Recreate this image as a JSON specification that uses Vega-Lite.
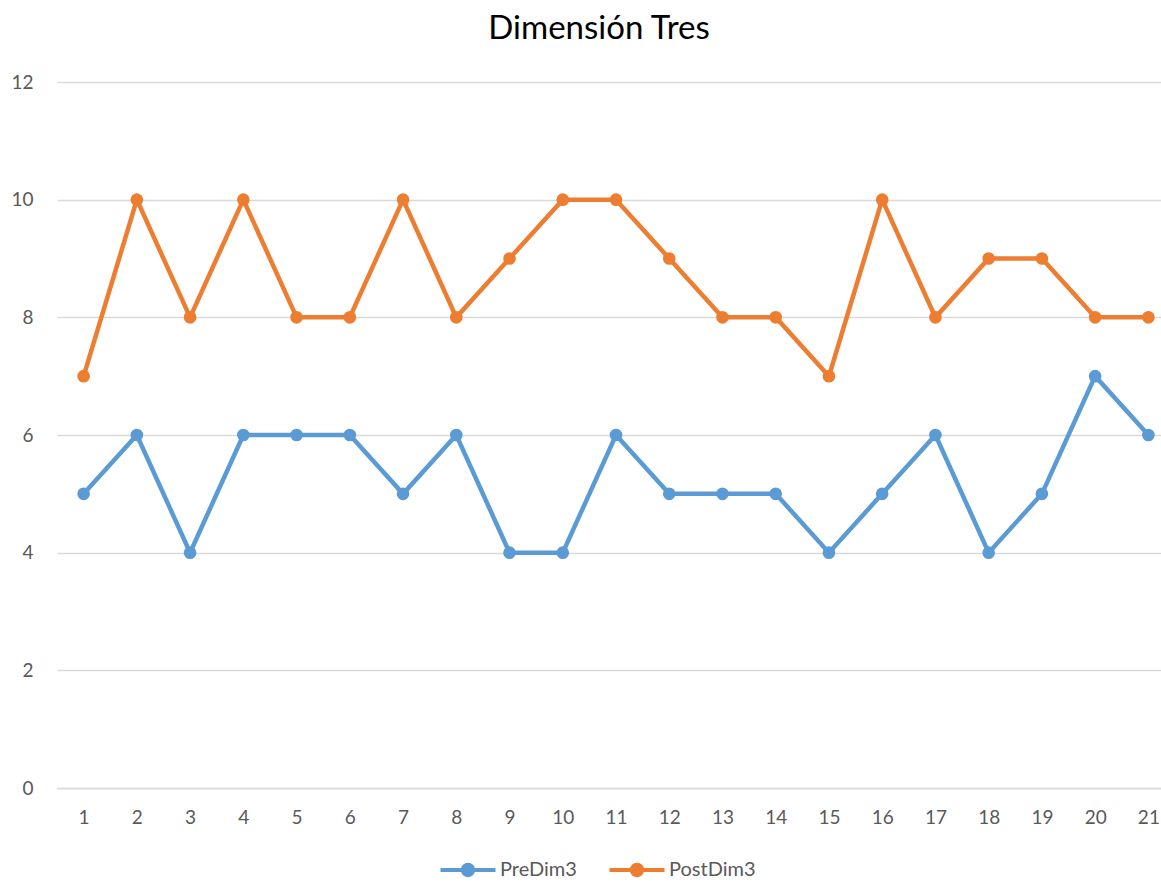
{
  "$schema": "https://vega.github.io/schema/vega-lite/v6.json",
  "autosize": "none",
  "padding": {"left": 57, "top": 82, "right": 0, "bottom": 94},
  "width": 1118,
  "height": 706,
  "background": "white",
  "title": {"text": "Dimensión Tres", "fontSize": 33, "font": "Lato", "fontWeight": "normal", "color": "#000000", "dx": -17, "offset": 27},
  "data": {"values": [
    {"x": 1, "s": "PreDim3", "v": 5}, {"x": 2, "s": "PreDim3", "v": 6}, {"x": 3, "s": "PreDim3", "v": 4},
    {"x": 4, "s": "PreDim3", "v": 6}, {"x": 5, "s": "PreDim3", "v": 6}, {"x": 6, "s": "PreDim3", "v": 6},
    {"x": 7, "s": "PreDim3", "v": 5}, {"x": 8, "s": "PreDim3", "v": 6}, {"x": 9, "s": "PreDim3", "v": 4},
    {"x": 10, "s": "PreDim3", "v": 4}, {"x": 11, "s": "PreDim3", "v": 6}, {"x": 12, "s": "PreDim3", "v": 5},
    {"x": 13, "s": "PreDim3", "v": 5}, {"x": 14, "s": "PreDim3", "v": 5}, {"x": 15, "s": "PreDim3", "v": 4},
    {"x": 16, "s": "PreDim3", "v": 5}, {"x": 17, "s": "PreDim3", "v": 6}, {"x": 18, "s": "PreDim3", "v": 4},
    {"x": 19, "s": "PreDim3", "v": 5}, {"x": 20, "s": "PreDim3", "v": 7}, {"x": 21, "s": "PreDim3", "v": 6},
    {"x": 1, "s": "PostDim3", "v": 7}, {"x": 2, "s": "PostDim3", "v": 10}, {"x": 3, "s": "PostDim3", "v": 8},
    {"x": 4, "s": "PostDim3", "v": 10}, {"x": 5, "s": "PostDim3", "v": 8}, {"x": 6, "s": "PostDim3", "v": 8},
    {"x": 7, "s": "PostDim3", "v": 10}, {"x": 8, "s": "PostDim3", "v": 8}, {"x": 9, "s": "PostDim3", "v": 9},
    {"x": 10, "s": "PostDim3", "v": 10}, {"x": 11, "s": "PostDim3", "v": 10}, {"x": 12, "s": "PostDim3", "v": 9},
    {"x": 13, "s": "PostDim3", "v": 8}, {"x": 14, "s": "PostDim3", "v": 8}, {"x": 15, "s": "PostDim3", "v": 7},
    {"x": 16, "s": "PostDim3", "v": 10}, {"x": 17, "s": "PostDim3", "v": 8}, {"x": 18, "s": "PostDim3", "v": 9},
    {"x": 19, "s": "PostDim3", "v": 9}, {"x": 20, "s": "PostDim3", "v": 8}, {"x": 21, "s": "PostDim3", "v": 8}
  ]},
  "config": {
    "view": {"stroke": null},
    "font": "Lato"
  },
  "encoding": {
    "x": {"field": "x", "type": "ordinal", "scale": {"type": "point", "padding": 0.5},
      "axis": {"title": null, "labelAngle": 0, "labelFontSize": 19, "labelColor": "#595959", "labelFont": "Lato", "ticks": false, "domain": true, "domainColor": "#d9d9d9", "domainWidth": 1.5, "labelPadding": 20, "grid": false}},
    "y": {"field": "v", "type": "quantitative", "scale": {"domain": [0, 12]},
      "axis": {"title": null, "values": [0, 2, 4, 6, 8, 10, 12], "labelFontSize": 19, "labelColor": "#595959", "labelFont": "Lato", "ticks": false, "domain": false, "gridColor": "#d9d9d9", "gridWidth": 1.5, "labelPadding": 24}},
    "color": {"field": "s", "type": "nominal",
      "scale": {"domain": ["PreDim3", "PostDim3"], "range": ["#5B9BD5", "#ED7D31"]},
      "legend": {"title": null, "orient": "none", "direction": "horizontal", "legendX": 400, "legendY": 777,
        "labelFontSize": 20, "labelColor": "#595959", "labelFont": "Lato",
        "symbolType": "M-2.5,-0.18 H2.5 V0.18 H-2.5 Z M-0.65,0 A0.65,0.65 0 1,1 0.65,0 A0.65,0.65 0 1,1 -0.65,0 Z",
        "symbolSize": 484, "symbolStrokeWidth": 0, "columnPadding": 32, "labelOffset": 21,
        "encode": {"symbols": {"update": {"fill": {"scale": "color", "field": "value"}, "opacity": {"value": 1}}}}}}
  },
  "layer": [
    {"mark": {"type": "line", "strokeWidth": 4.5}},
    {"mark": {"type": "point", "filled": true, "size": 160, "opacity": 1}}
  ]
}
